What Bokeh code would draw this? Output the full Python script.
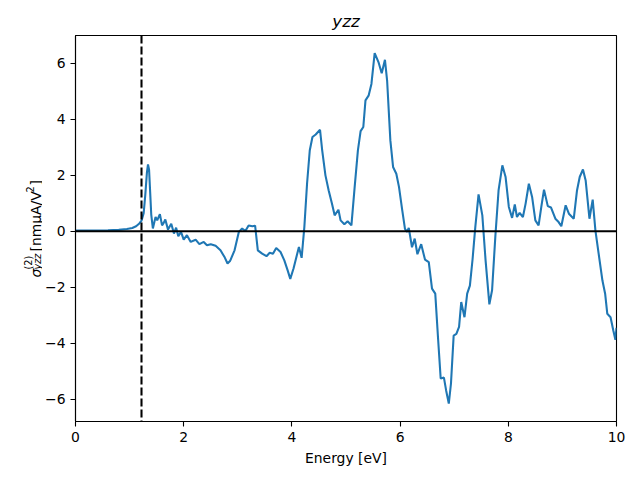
import math
from bokeh.plotting import figure
from bokeh.layouts import row
from bokeh.models import Range1d, FixedTicker, Span, Label
from bokeh.embed import file_html
from bokeh.resources import INLINE

# ---- data ----
energy = [0.00, 0.30, 0.60, 0.80, 0.95, 1.05, 1.12, 1.18, 1.22, 1.26, 1.29, 1.32, 1.34, 1.36,
          1.38, 1.40, 1.43, 1.46, 1.48, 1.51, 1.56, 1.60, 1.63, 1.66, 1.71, 1.77, 1.82, 1.86,
          1.90, 1.95, 2.00, 2.06, 2.13, 2.22, 2.29, 2.37, 2.43, 2.50, 2.59, 2.68, 2.76, 2.81,
          2.86, 2.94, 3.02, 3.08, 3.14, 3.20, 3.27, 3.32, 3.37, 3.45, 3.53, 3.59, 3.65, 3.71,
          3.79, 3.86, 3.92, 3.97, 4.03, 4.13, 4.18, 4.23, 4.28, 4.33, 4.38, 4.44, 4.52, 4.56,
          4.62, 4.68, 4.74, 4.79, 4.86, 4.90, 4.97, 5.03, 5.10, 5.16, 5.22, 5.27, 5.32, 5.36,
          5.42, 5.47, 5.53, 5.60, 5.66, 5.72, 5.76, 5.82, 5.87, 5.93, 5.98, 6.04, 6.09, 6.13,
          6.16, 6.22, 6.27, 6.32, 6.39, 6.46, 6.53, 6.59, 6.65, 6.70, 6.75, 6.81, 6.85, 6.90,
          6.94, 6.99, 7.04, 7.09, 7.13, 7.19, 7.24, 7.29, 7.34, 7.39, 7.45, 7.52, 7.58, 7.65,
          7.70, 7.76, 7.82, 7.89, 7.95, 8.01, 8.07, 8.12, 8.16, 8.21, 8.27, 8.32, 8.38, 8.44,
          8.50, 8.56, 8.61, 8.66, 8.73, 8.79, 8.87, 8.93, 8.98, 9.06, 9.12, 9.21, 9.27, 9.32,
          9.38, 9.43, 9.50, 9.56, 9.61, 9.67, 9.74, 9.79, 9.83, 9.89, 9.94, 9.98, 10.00]
sigma = [0.03, 0.03, 0.04, 0.05, 0.08, 0.12, 0.18, 0.28, 0.38, 0.65, 1.30, 2.10, 2.39, 2.20,
         1.40, 0.60, 0.10, 0.35, 0.51, 0.39, 0.61, 0.21, 0.30, 0.42, 0.06, 0.27, -0.08, 0.13,
         -0.18, -0.02, -0.30, -0.14, -0.38, -0.30, -0.46, -0.38, -0.50, -0.46, -0.52, -0.68, -0.94, -1.15,
         -1.05, -0.68, -0.02, 0.10, 0.01, 0.21, 0.18, 0.20, -0.68, -0.80, -0.89, -0.77, -0.80, -0.60,
         -0.74, -1.04, -1.39, -1.70, -1.33, -0.56, -0.95, 0.15, 1.70, 2.89, 3.37, 3.46, 3.63, 2.89,
         2.00, 1.46, 0.99, 0.57, 0.77, 0.39, 0.25, 0.36, 0.21, 1.58, 2.89, 3.58, 3.73, 4.68,
         4.86, 5.27, 6.37, 6.05, 5.65, 6.13, 5.39, 3.25, 2.30, 2.06, 1.58, 0.75, 0.09, -0.02,
         0.12, -0.57, -0.26, -0.82, -0.46, -1.01, -1.10, -2.05, -2.23, -3.78, -5.26, -5.23, -5.68, -6.16,
         -5.45, -3.73, -3.67, -3.42, -2.53, -3.07, -2.23, -1.94, -0.99, 0.15, 1.32, 0.57, -1.04, -2.61,
         -2.11, -0.20, 1.46, 2.36, 1.94, 0.87, 0.48, 0.96, 0.51, 0.66, 0.51, 0.99, 1.70, 1.23,
         0.39, 0.21, 0.87, 1.49, 0.90, 0.85, 0.45, 0.33, 0.18, 0.93, 0.63, 0.45, 1.46, 1.94,
         2.21, 1.82, 0.45, 1.13, 0.03, -0.80, -1.76, -2.23, -2.95, -3.07, -3.54, -3.88, -3.45]
gap_energy = 1.22
x_ticks = [0, 2, 4, 6, 8, 10]
y_ticks = [-6, -4, -2, 0, 2, 4, 6]
title_text = "yzz"
x_label = "Energy [eV]"

FONT = "DejaVu Sans"
FS = "13.9px"
SUB = "9.7px"
LEFT_W = 42
H = 480
BOTTOM = 59

# ---- main plot ----
p = figure(width=640 - LEFT_W, height=H, output_backend="svg", toolbar_location=None,
           x_range=Range1d(0, 10), y_range=Range1d(-6.80, 7.0),
           min_border_left=75 - LEFT_W, min_border_right=24, min_border_top=35,
           min_border_bottom=BOTTOM)
p.background_fill_color = "white"
p.border_fill_color = "white"
p.grid.visible = False
p.outline_line_color = "black"
p.outline_line_width = 1.1

p.title.text = title_text
p.title.align = "center"
p.title.text_font = FONT
p.title.text_font_size = "16.7px"
p.title.text_font_style = "italic"
p.title.text_color = "black"
p.title.standoff = 9

for ax in (p.xaxis[0], p.yaxis[0]):
    ax.axis_line_color = "black"
    ax.axis_line_width = 1.1
    ax.major_tick_line_color = "black"
    ax.major_tick_line_width = 1.1
    ax.major_tick_out = 5
    ax.major_tick_in = 0
    ax.minor_tick_line_color = None
    ax.major_label_text_font = FONT
    ax.major_label_text_font_size = FS
    ax.major_label_text_color = "black"
    ax.major_label_standoff = 5

p.xaxis.ticker = FixedTicker(ticks=x_ticks)
p.yaxis.ticker = FixedTicker(ticks=y_ticks)
p.yaxis.major_label_overrides = {t: (str(t).replace("-", "\u2212")) for t in y_ticks}
p.xaxis.axis_label = x_label
p.xaxis.axis_label_text_font = FONT
p.xaxis.axis_label_text_font_size = FS
p.xaxis.axis_label_text_font_style = "normal"
p.xaxis.axis_label_text_color = "black"
p.xaxis.axis_label_standoff = 5

p.line(energy, sigma, line_color="#1f77b4", line_width=2.08)
p.add_layout(Span(location=0, dimension="width", line_color="black", line_width=2.08, level="glyph"))
p.add_layout(Span(location=gap_energy, dimension="height", line_color="black",
                  line_width=2.08, line_dash="8 3", level="glyph"))

# ---- left strip holding the rotated y-axis label ----
q = figure(width=LEFT_W, height=H, output_backend="svg", toolbar_location=None,
           x_range=Range1d(0, LEFT_W), y_range=Range1d(0, H),
           x_axis_location=None, y_axis_location=None,
           min_border_left=0, min_border_right=0, min_border_top=0, min_border_bottom=0)
q.grid.visible = False
q.outline_line_color = None
q.background_fill_color = "white"
q.border_fill_color = "white"

ang = math.pi / 2
FRAME_BOTTOM = H - BOTTOM   # the row aligns this strip's frame with the main frame
def lab(text, x, top, size, style="normal"):
    # x: baseline position from the strip's left edge; top: start of text from the page top
    q.add_layout(Label(x=x, y=FRAME_BOTTOM - top, x_units="screen", y_units="screen", text=text,
                       angle=ang, text_font=FONT, text_font_size=size, text_font_style=style,
                       text_color="black", text_align="left", text_baseline="alphabetic"))

lab("\u03c3", 35, 277, FS, "italic")
lab("(2)", 28, 269, SUB)
lab("yzz", 36.5, 269, SUB, "italic")
lab("[nm\u03bcA/V", 35, 251, FS)
lab("2", 29, 192, SUB)
lab("]", 35, 185, FS)

layout = row(q, p, spacing=0)
open("out.html", "w").write(file_html(layout, INLINE))
